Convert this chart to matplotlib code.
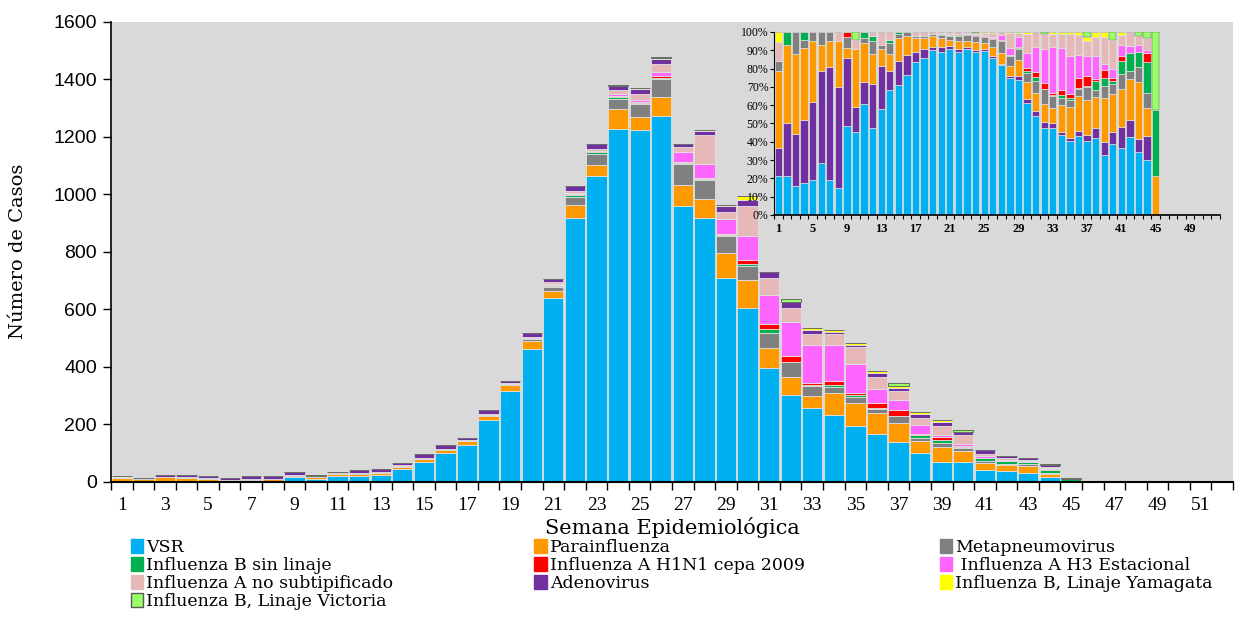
import numpy as np
import matplotlib
matplotlib.use("Agg")
import matplotlib.pyplot as plt
from matplotlib.patches import Patch

weeks = np.arange(1, 53)

# cases per epidemiological week (weeks 1-45, rest are zero)
vsr = [4, 3, 4, 4, 4, 4, 4, 3, 17, 10, 20, 20, 25, 45, 68, 99, 128, 214, 316, 461,
       640, 917, 1065, 1228, 1224, 1271, 960, 917, 710, 605, 394, 301, 255, 232, 195, 165, 139, 101, 70, 70,
       41, 38, 29, 18, 0]
para = [8, 6, 11, 9, 7, 2, 3, 5, 2, 7, 7, 7, 4, 6, 12, 13, 12, 15, 21, 27,
        25, 45, 36, 67, 44, 67, 72, 66, 86, 96, 72, 64, 44, 78, 80, 73, 65, 41, 52, 38,
        23, 20, 26, 9, 3]
meta = [1, 0, 3, 1, 1, 1, 1, 0, 2, 0, 1, 3, 1, 4, 2, 3, 2, 3, 3, 8,
        12, 28, 40, 38, 47, 63, 73, 67, 59, 49, 50, 50, 34, 19, 19, 14, 24, 9, 14, 10,
        9, 4, 7, 5, 0]
flub_sl = [0, 1, 0, 1, 0, 0, 0, 0, 0, 0, 1, 1, 0, 1, 1, 0, 0, 0, 1, 2,
           5, 8, 6, 4, 2, 4, 3, 3, 3, 9, 14, 3, 5, 9, 6, 3, 2, 12, 9, 3,
           8, 9, 7, 10, 5]
h1n1 = [0, 0, 0, 0, 0, 0, 0, 0, 1, 0, 0, 0, 0, 0, 0, 0, 0, 0, 0, 0,
        2, 2, 2, 4, 4, 6, 4, 5, 5, 14, 19, 19, 5, 14, 10, 20, 19, 3, 10, 2,
        3, 0, 0, 3, 0]
h3 = [0, 0, 0, 0, 0, 0, 0, 0, 0, 0, 0, 0, 0, 0, 0, 0, 0, 0, 0, 2,
      4, 4, 3, 8, 8, 13, 35, 47, 51, 81, 101, 119, 133, 124, 101, 48, 37, 31, 7, 9,
      7, 3, 3, 1, 0]
flua_ns = [2, 0, 0, 0, 0, 0, 0, 1, 0, 1, 0, 1, 3, 3, 0, 0, 3, 5, 3, 4,
           6, 8, 7, 12, 20, 30, 18, 100, 23, 104, 60, 50, 38, 38, 56, 43, 29, 25, 31, 29,
           6, 7, 4, 4, 0]
adeno = [3, 4, 7, 8, 9, 7, 13, 11, 13, 3, 4, 10, 10, 7, 13, 14, 8, 12, 7, 14,
         12, 16, 16, 14, 16, 17, 10, 15, 22, 23, 21, 20, 13, 8, 9, 12, 12, 13, 15, 12,
         13, 8, 6, 8, 0]
yamagata = [1, 0, 0, 0, 0, 0, 0, 0, 0, 0, 0, 0, 0, 0, 0, 0, 0, 0, 0, 0,
            0, 2, 1, 0, 3, 4, 0, 5, 5, 12, 0, 0, 7, 7, 6, 6, 7, 6, 6, 0,
            2, 0, 0, 0, 0]
victoria = [0, 0, 0, 0, 0, 0, 0, 0, 0, 1, 0, 0, 0, 0, 0, 0, 0, 0, 0, 0,
            0, 0, 0, 6, 2, 3, 0, 0, 0, 0, 0, 8, 0, 0, 0, 0, 10, 0, 0, 8,
            0, 0, 2, 2, 6]

labels = ["VSR", "Parainfluenza", "Metapneumovirus", "Influenza B sin linaje",
          "Influenza A H1N1 cepa 2009", " Influenza A H3 Estacional",
          "Influenza A no subtipificado", "Adenovirus",
          "Influenza B, Linaje Yamagata", "Influenza B, Linaje Victoria"]
colors = ["#00B0F0", "#FF9900", "#808080", "#00B050", "#FF0000", "#FF66FF",
          "#E6B9B8", "#7030A0", "#FFFF00", "#99FF66"]

def pad(v):
    return np.array(v + [0] * (52 - len(v)), dtype=float)

series = [pad(s) for s in [vsr, para, meta, flub_sl, h1n1, h3, flua_ns, adeno, yamagata, victoria]]

serif = ["Liberation Serif", "DejaVu Serif"]
serif_wide = ["DejaVu Serif"]
sans = ["Liberation Sans", "DejaVu Sans"]
bg = "#D9D9D9"

fig = plt.figure(figsize=(12.43, 6.41), dpi=100)
ax = fig.add_axes([0.0893, 0.2485, 0.9027, 0.7175])
ax.set_facecolor(bg)

bottom = np.zeros(52)
for s, c in zip(series, colors):
    ec = "#595959" if c == "#99FF66" else "#E0E0E0"
    ax.bar(weeks, s, bottom=bottom, width=0.94, color=c, edgecolor=ec, linewidth=0.6)
    bottom += s

ax.set_xlim(0.5, 52.5)
ax.set_ylim(0, 1600)
ax.set_yticks(np.arange(0, 1601, 200))
ax.set_xticks(np.arange(1, 53, 2))
ax.set_xticks(np.arange(0.5, 53, 1), minor=True)
ax.tick_params(axis="x", which="major", length=0, pad=11)
ax.tick_params(axis="x", which="minor", length=6, width=1, direction="out")
ax.tick_params(axis="y", length=6, width=1, pad=4)
for lab in ax.get_xticklabels():
    lab.set_family(serif)
    lab.set_fontsize(14)
for lab in ax.get_yticklabels():
    lab.set_family(sans)
    lab.set_fontsize(14)
for side in ["top", "right"]:
    ax.spines[side].set_visible(False)
ax.spines["left"].set_linewidth(1.2)
ax.spines["bottom"].set_linewidth(1.5)

ax.set_xlabel("Semana Epidemiológica", family=serif_wide, fontsize=15, labelpad=2)
ax.set_ylabel("Número de Casos", family=serif_wide, fontsize=14)
ax.yaxis.set_label_coords(-0.075, 0.5)

# inset: percentage per week
order = [0, 7, 1, 2, 3, 4, 5, 6, 8, 9]
total = np.sum(series, axis=0)
safe = np.where(total > 0, total, 1)
ins = fig.add_axes([0.6227, 0.6646, 0.3588, 0.2855])
ins.set_facecolor(bg)
bottom = np.zeros(52)
for i in order:
    pct = series[i] / safe
    ec = "#595959" if colors[i] == "#99FF66" else "#E0E0E0"
    lw = 0.3 if colors[i] == "#99FF66" else 0.5
    ins.bar(weeks, pct, bottom=bottom, width=0.85, color=colors[i], edgecolor=ec, linewidth=lw)
    bottom += pct
ins.set_xlim(0.5, 52.5)
ins.set_ylim(0, 1)
ins.set_yticks(np.arange(0, 1.01, 0.1))
ins.set_yticklabels([f"{int(v)}%" for v in np.arange(0, 101, 10)], family=serif, fontsize=8.5)
ins.set_xticks(np.arange(1, 53, 4))
ins.set_xticklabels([str(v) for v in np.arange(1, 53, 4)], family=serif, fontsize=9, fontweight="bold")
ins.set_xticks(np.arange(0.5, 53, 1), minor=True)
ins.tick_params(axis="x", which="major", length=0, pad=6)
ins.tick_params(axis="x", which="minor", length=3, width=0.8)
ins.tick_params(axis="y", length=3, width=0.8, pad=1)
for side in ["top", "right"]:
    ins.spines[side].set_visible(False)
ins.spines["bottom"].set_linewidth(1.2)
ins.spines["left"].set_linewidth(0.8)

# legend: three fixed-width columns, row-major like the original
col_x = [0.105, 0.430, 0.756]
for col in range(3):
    handles = []
    for i in range(col, len(labels), 3):
        ec = "#595959" if colors[i] == "#99FF66" else colors[i]
        handles.append(Patch(facecolor=colors[i], edgecolor=ec, label=labels[i]))
    fig.legend(handles=handles, loc="upper left", bbox_to_anchor=(col_x[col], 0.159),
               frameon=False, prop={"family": serif_wide, "size": 12.5},
               handlelength=0.7, handleheight=0.9, handletextpad=0.2,
               labelspacing=0.04, borderaxespad=0, borderpad=0)

fig.savefig("out.png", dpi=100)
